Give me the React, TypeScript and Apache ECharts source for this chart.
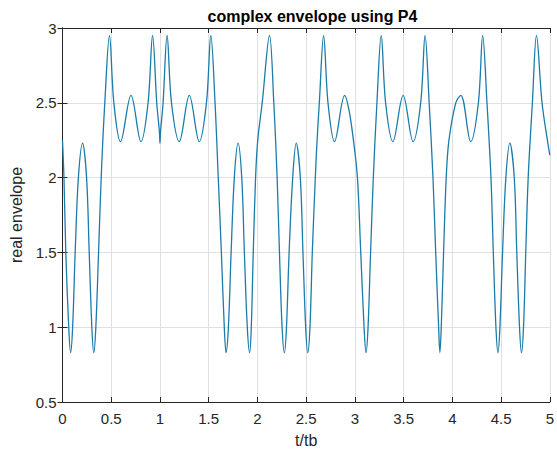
import React, { useEffect, useRef } from "react";
import * as echarts from "echarts";

const tValues: number[] = [
  0, 0.015, 0.034, 0.064, 0.083, 0.104, 0.13, 0.163, 0.206, 0.247, 0.274, 0.301, 0.321,
  0.342, 0.37, 0.397, 0.434, 0.482, 0.527, 0.595, 0.703, 0.805, 0.878, 0.924, 0.967,
  0.995, 1.0, 1.005, 1.032, 1.073, 1.118, 1.199, 1.301, 1.403, 1.477, 1.522, 1.565,
  1.598, 1.63, 1.66, 1.678, 1.702, 1.73, 1.763, 1.801, 1.839, 1.866, 1.896, 1.92,
  1.937, 1.957, 1.981, 2.003, 2.049, 2.124, 2.168, 2.202, 2.226, 2.253, 2.277,
  2.298, 2.325, 2.362, 2.398, 2.44, 2.467, 2.495, 2.516, 2.539, 2.563, 2.594, 2.612,
  2.635, 2.679, 2.724, 2.791, 2.895, 2.94, 2.985, 3.026, 3.06, 3.094, 3.114, 3.135,
  3.161, 3.189, 3.226, 3.27, 3.315, 3.39, 3.495, 3.597, 3.675, 3.72, 3.762, 3.801,
  3.829, 3.859, 3.872, 3.886, 3.91, 3.937, 3.965, 4.035, 4.087, 4.188, 4.267, 4.311,
  4.355, 4.396, 4.42, 4.447, 4.468, 4.488, 4.515, 4.549, 4.59, 4.635, 4.661, 4.689,
  4.709, 4.73, 4.753, 4.778, 4.821, 4.863, 4.92, 4.975, 5.0,
];

const envelopeValues: number[] = [
  2.25, 2.0, 1.5, 1.0, 0.83, 1.0, 1.5, 2.0, 2.23, 2.0, 1.5, 1.0, 0.83,
  1.0, 1.5, 2.0, 2.5, 2.95, 2.5, 2.24, 2.55, 2.24, 2.5, 2.95, 2.5,
  2.3, 2.23, 2.3, 2.5, 2.95, 2.5, 2.24, 2.55, 2.24, 2.5, 2.95, 2.5,
  2.0, 1.5, 1.0, 0.83, 1.0, 1.5, 2.0, 2.23, 2.0, 1.5, 1.0, 0.83,
  1.0, 1.5, 2.0, 2.25, 2.5, 2.95, 2.5, 2.0, 1.5, 1.0, 0.83,
  1.0, 1.5, 2.0, 2.23, 2.0, 1.5, 1.0, 0.83, 1.0, 1.5, 2.0, 2.25,
  2.5, 2.95, 2.5, 2.24, 2.55, 2.45, 2.25, 2.0, 1.5, 1.0, 0.83, 1.0,
  1.5, 2.0, 2.5, 2.95, 2.5, 2.24, 2.55, 2.24, 2.5, 2.95, 2.5, 2.0,
  1.5, 1.0, 0.83, 1.0, 1.5, 2.0, 2.25, 2.5, 2.55, 2.24, 2.5, 2.95,
  2.5, 2.0, 1.5, 1.0, 0.83, 1.0, 1.5, 2.0, 2.23, 2.0, 1.5, 1.0,
  0.83, 1.0, 1.5, 2.0, 2.5, 2.95, 2.5, 2.25, 2.15,
];

const xTickLabels: string[] = ["0", "0.5", "1", "1.5", "2", "2.5", "3", "3.5", "4", "4.5", "5"];
const yTickLabels: string[] = ["0.5", "1", "1.5", "2", "2.5", "3"];

const FONT = "'Liberation Sans', Arial, Helvetica, sans-serif";
const AXIS_COLOR = "#262626";

export default function App() {
  const ref = useRef<HTMLDivElement>(null);

  useEffect(() => {
    if (!ref.current) return;
    const chart = echarts.init(ref.current, undefined, { renderer: "svg" });
    const data = tValues.map((t, i) => [t, envelopeValues[i]]);
    const xMin = Number(xTickLabels[0]);
    const xMax = Number(xTickLabels[xTickLabels.length - 1]);
    const yMin = Number(yTickLabels[0]);
    const yMax = Number(yTickLabels[yTickLabels.length - 1]);

    const axisCommon = {
      type: "value" as const,
      axisLine: { show: true, lineStyle: { color: AXIS_COLOR, width: 1 } },
      axisTick: { show: true, inside: true, length: 5, lineStyle: { color: AXIS_COLOR } },
    };

    chart.setOption({
      animation: false,
      backgroundColor: "#ffffff",
      title: {
        text: "complex envelope using P4",
        left: 307.5,
        top: 3,
        textAlign: "center",
        textStyle: { fontFamily: FONT, fontSize: 16, fontWeight: "bold", color: "#000000" },
      },
      grid: { left: 62.5, right: 4.5, top: 28, bottom: 47, containLabel: false },
      xAxis: [
        {
          ...axisCommon,
          position: "bottom",
          min: xMin,
          max: xMax,
          interval: 0.5,
          name: "t/tb",
          nameLocation: "middle",
          nameGap: 30,
          nameTextStyle: { fontFamily: FONT, fontSize: 16, color: AXIS_COLOR },
          axisLabel: {
            fontFamily: FONT,
            fontSize: 15,
            color: AXIS_COLOR,
            margin: 9,
            formatter: (v: number) => String(v),
          },
          splitLine: { show: true, lineStyle: { color: "#e0e0e0", width: 1 } },
        },
        {
          ...axisCommon,
          position: "top",
          min: xMin,
          max: xMax,
          interval: 0.5,
          axisLabel: { show: false },
          splitLine: { show: false },
        },
      ],
      yAxis: [
        {
          ...axisCommon,
          position: "left",
          min: yMin,
          max: yMax,
          interval: 0.5,
          name: "real envelope",
          nameLocation: "middle",
          nameGap: 30,
          nameTextStyle: { fontFamily: FONT, fontSize: 16, color: AXIS_COLOR },
          axisLabel: {
            fontFamily: FONT,
            fontSize: 15,
            color: AXIS_COLOR,
            margin: 6,
            formatter: (v: number) => String(v),
          },
          splitLine: { show: true, lineStyle: { color: "#e0e0e0", width: 1 } },
        },
        {
          ...axisCommon,
          position: "right",
          min: yMin,
          max: yMax,
          interval: 0.5,
          axisLabel: { show: false },
          splitLine: { show: false },
        },
      ],
      series: [
        {
          type: "line",
          data,
          xAxisIndex: 0,
          yAxisIndex: 0,
          showSymbol: false,
          smooth: 0.35,
          lineStyle: { color: "#1a7caa", width: 1.3 },
          clip: true,
        },
      ],
    });
    return () => chart.dispose();
  }, []);

  return (
    <div
      ref={ref}
      style={{ position: "fixed", left: 0, top: 0, width: 557, height: 453, background: "#fff" }}
    />
  );
}
